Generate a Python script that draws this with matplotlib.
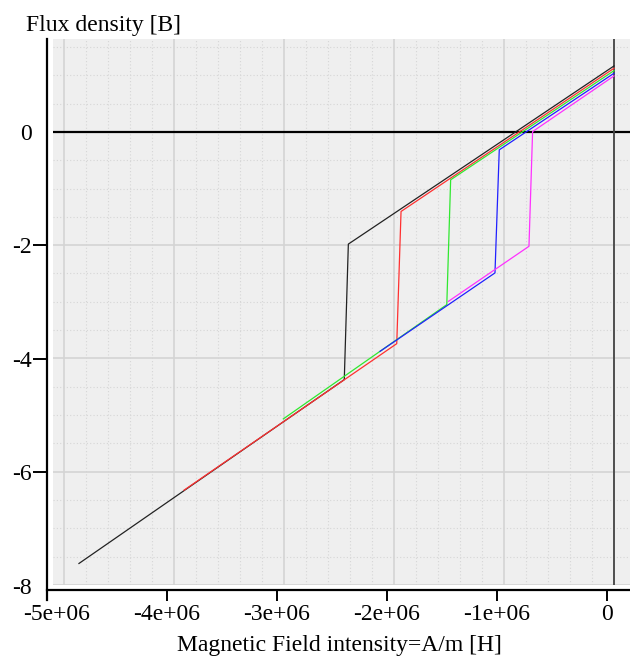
import numpy as np
import matplotlib
matplotlib.use("Agg")
import matplotlib.pyplot as plt

# hysteresis branches, H in A/m, B in T
H_black = [0.0, -2.415e6, -2.452e6, -4.864e6]
B_black = [1.164, -1.981, -4.374, -7.62]

H_red = [0.0, -1.936e6, -1.975e6, -3.909e6]
B_red = [1.123, -1.405, -3.739, -6.326]

H_green = [0.0, -1.485e6, -1.52e6, -3.006e6]
B_green = [1.081, -0.846, -3.05, -5.067]

H_blue = [0.0, -1.043e6, -1.082e6, -2.127e6]
B_blue = [1.035, -0.317, -2.49, -3.875]

H_magenta = [0.0, -0.74e6, -0.773e6, -1.506e6]
B_magenta = [0.988, 0.005, -2.02, -2.993]

x_ticks = [-5e6, -4e6, -3e6, -2e6, -1e6, 0]
x_ticklabels = ["-5e+06", "-4e+06", "-3e+06", "-2e+06", "-1e+06", "0"]
y_ticks = [0, -2, -4, -6, -8]
y_ticklabels = ["0", "-2", "-4", "-6", "-8"]

curves = [
    (H_black, B_black, "#222222"),
    (H_red, B_red, "#ff3030"),
    (H_green, B_green, "#30e830"),
    (H_blue, B_blue, "#2020ff"),
    (H_magenta, B_magenta, "#ff30ff"),
]

plt.rcParams["font.family"] = ["Liberation Serif", "DejaVu Serif"]

W, Hpx = 630, 657
fig = plt.figure(figsize=(W / 100, Hpx / 100), dpi=100)

def box(l, t, r, b):
    return [l / W, 1 - b / Hpx, (r - l) / W, (b - t) / Hpx]

# plot area (grey) with grid and data
ax = fig.add_axes(box(53, 39, 630, 585))
ax.set_facecolor("#efefef")
ax.set_xlim(-5.1e6, 0.1455e6)
ax.set_ylim(-7.989, 1.640)
ax.set_xticks(np.arange(-5e6, 1, 1e6))
ax.set_xticks(np.arange(-5e6, 0.15e6, 0.2e6), minor=True)
ax.set_yticks(np.arange(-8, 1, 2))
ax.set_yticks(np.arange(-8, 1.6, 0.5), minor=True)
ax.tick_params(which="both", length=0, labelbottom=False, labelleft=False)
ax.grid(which="major", color="#d4d4d4", lw=1.2)
ax.grid(which="minor", color="#d6d6d6", lw=0.8, ls=(0, (1, 2)))
ax.set_axisbelow(True)
for s in ax.spines.values():
    s.set_visible(False)

ax.axhline(0, color="black", lw=1.6, zorder=1)
ax.axvline(0, color="#444444", lw=1.3, zorder=1)

for h, b, c in curves:
    ax.plot(h, b, color=c, lw=0.9, zorder=3)

# detached axis lines with ticks
ax2 = fig.add_axes(box(47, 39, 630, 600))
ax2.set_facecolor("none")
ax2.set_xlim(-5.091e6, 0.209e6)
ax2.set_ylim(-8.254, 1.640)
for side in ["top", "right"]:
    ax2.spines[side].set_visible(False)
ax2.spines["bottom"].set_position(("axes", 10 / 561))
ax2.spines["bottom"].set_linewidth(1.6)
ax2.spines["left"].set_linewidth(1.6)
ax2.set_xticks(x_ticks)
ax2.set_xticklabels(x_ticklabels)
ax2.set_yticks(y_ticks)
ax2.set_yticklabels(y_ticklabels)
ax2.tick_params(axis="x", length=8, width=1.4, pad=2, labelsize=17)
ax2.tick_params(axis="y", length=10, width=1.4, pad=1, labelsize=17)
ax2.xaxis.get_major_ticks()[0].tick1line.set_visible(False)
ax2.yaxis.get_major_ticks()[0].tick1line.set_visible(False)
ax2.yaxis.get_major_ticks()[4].tick1line.set_visible(False)

fig.text(339 / W, 1 - 651 / Hpx, "Magnetic Field intensity=A/m [H]", fontsize=17,
         ha="center", va="baseline")
fig.text(26 / W, 1 - 25 / Hpx, "Flux density [B]", fontsize=17, ha="left", va="center")

fig.savefig("out.png", dpi=100)
